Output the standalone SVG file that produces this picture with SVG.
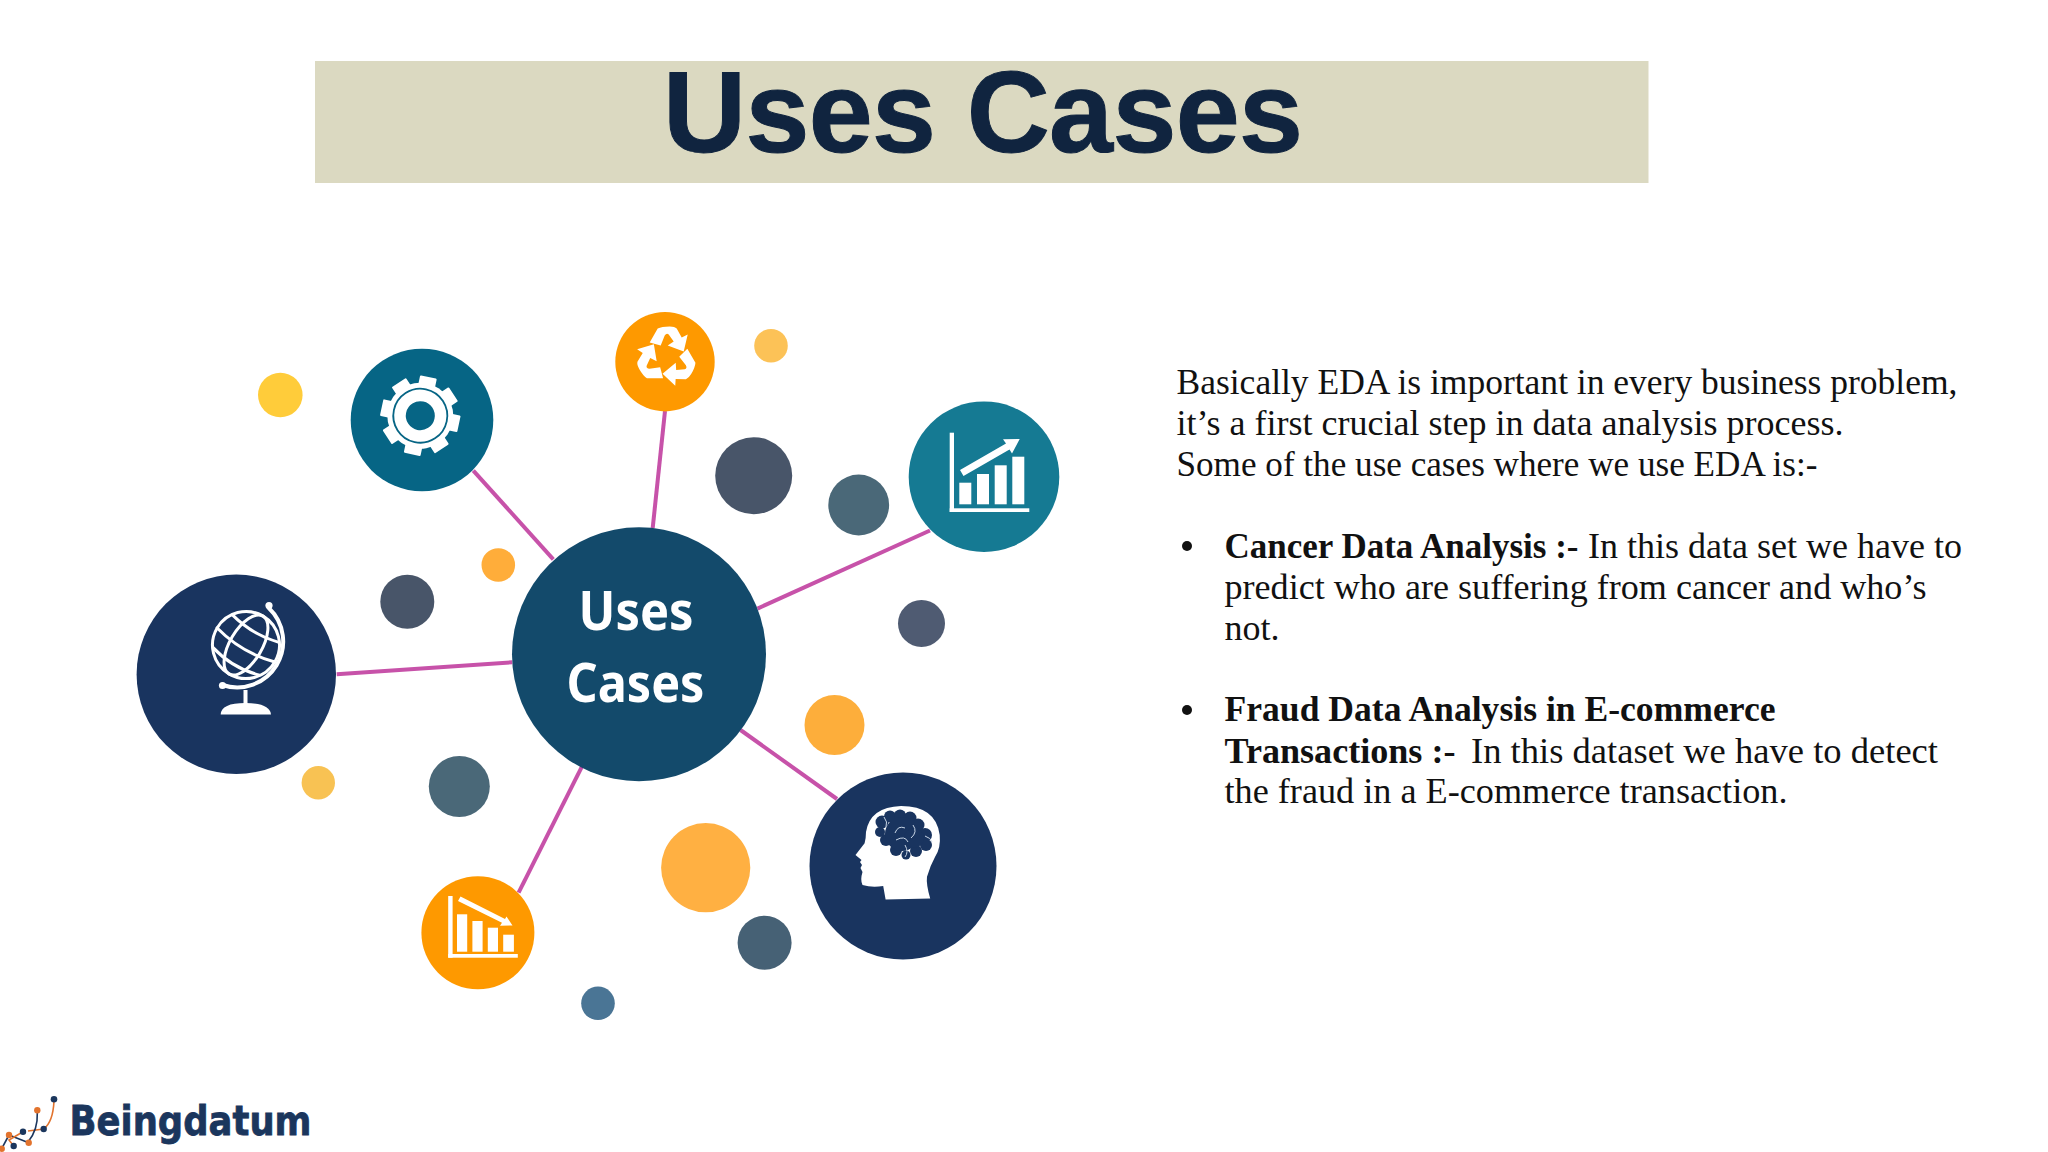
<svg xmlns="http://www.w3.org/2000/svg" xmlns:xlink="http://www.w3.org/1999/xlink" width="2048" height="1152" viewBox="0 0 2048 1152">
<style>
.link{stroke:#c752a9;stroke-width:4;fill:none}
.i{fill:#fff}
.is{fill:none;stroke:#fff;stroke-linecap:round}
.b{font-family:"Liberation Serif","Times New Roman",serif;font-size:36px;fill:#111}
.bb{font-weight:700}
.c{font-family:"Noto Sans","Open Sans",sans-serif;font-size:53px;font-weight:700;fill:#fff;text-anchor:middle}
</style>
<defs>
<rect id="tooth" x="-8.5" y="-39.5" width="17" height="14" rx="1"/>
<path id="rec" d="M-17,-14 L-9,-28 Q-5,-30 3,-30 Q8,-30 10,-28 L15,-19 L21,-22 L17,-5 L1,-11 L7,-15 L2,-22 Q0,-24 -2,-21 L-6,-11 Z"/>
</defs>
<rect width="2048" height="1152" fill="#fff"/>
<g id="banner">
<rect x="315" y="61" width="1333.5" height="122" fill="#dbd9c1"/>
<text x="663" y="152" font-family="'Liberation Sans',Arial,sans-serif" font-size="115" font-weight="700" fill="#10243f" textLength="640" lengthAdjust="spacing" stroke="#10243f" stroke-width="1">Uses Cases</text>
</g>
<g id="connectors">
<line class="link" x1="473.3" y1="470.7" x2="553.3" y2="559.3"/>
<line class="link" x1="336.7" y1="674.3" x2="512.3" y2="662.3"/>
<line class="link" x1="665" y1="411" x2="652.7" y2="528"/>
<line class="link" x1="930" y1="530.5" x2="757.5" y2="608.6"/>
<line class="link" x1="740.5" y1="730" x2="837" y2="799"/>
<line class="link" x1="581.9" y1="766.7" x2="518.6" y2="892.7"/>
</g>
<g id="dots">
<circle cx="280.3" cy="395" r="22.3" fill="#ffcc3a"/>
<circle cx="498.3" cy="565" r="16.8" fill="#ffad3a"/>
<circle cx="407.3" cy="601.7" r="27" fill="#485569"/>
<circle cx="318.3" cy="782.7" r="16.7" fill="#f8c253"/>
<circle cx="459.3" cy="786.5" r="30.5" fill="#4a6878"/>
<circle cx="771" cy="345.7" r="16.8" fill="#fcc257"/>
<circle cx="753.7" cy="475.7" r="38.5" fill="#485569"/>
<circle cx="858.7" cy="505" r="30.4" fill="#4a6878"/>
<circle cx="921.5" cy="623.5" r="23.5" fill="#4f5b72"/>
<circle cx="834.5" cy="725" r="30" fill="#fdae3b"/>
<circle cx="705.7" cy="867.7" r="44.6" fill="#ffb042"/>
<circle cx="764.6" cy="942.7" r="27" fill="#466175"/>
<circle cx="598" cy="1003.3" r="16.8" fill="#4a7595"/>
</g>
<g id="node-center">
<circle cx="639" cy="654.3" r="127" fill="#134a6b"/>
<text class="c" x="636" y="630" textLength="115" lengthAdjust="spacingAndGlyphs">Uses</text>
<text class="c" x="635.5" y="701.5" textLength="138" lengthAdjust="spacingAndGlyphs">Cases</text>
</g>
<g id="node-gear">
<circle cx="422" cy="420" r="71.3" fill="#066585"/>
<g class="i" transform="translate(420.3,415.7) rotate(12)">
<circle r="33"/>
<use xlink:href="#tooth" href="#tooth"/>
<use xlink:href="#tooth" href="#tooth" transform="rotate(45)"/>
<use xlink:href="#tooth" href="#tooth" transform="rotate(90)"/>
<use xlink:href="#tooth" href="#tooth" transform="rotate(135)"/>
<use xlink:href="#tooth" href="#tooth" transform="rotate(180)"/>
<use xlink:href="#tooth" href="#tooth" transform="rotate(225)"/>
<use xlink:href="#tooth" href="#tooth" transform="rotate(270)"/>
<use xlink:href="#tooth" href="#tooth" transform="rotate(315)"/>
<circle r="27" fill="none" stroke="#066585" stroke-width="1.8"/>
<circle r="14.5" fill="#066585"/>
</g>
</g>
<g id="node-globe">
<circle cx="236.3" cy="674.3" r="99.7" fill="#19345f"/>
<g class="is" stroke-width="3" transform="rotate(30.6 246 645)">
<circle cx="246" cy="645" r="33.5"/>
<ellipse cx="246" cy="645" rx="16" ry="33.5"/>
<path d="M212.5,645 Q246,654 279.5,645"/>
<path d="M219,626 Q246,633 273,626"/>
<path d="M219,664 Q246,672 273,664"/>
</g>
<path class="is" stroke-width="4" d="M268.8,608 A46,46 0 0 1 222.5,685"/>
<circle class="i" cx="269" cy="605.5" r="3.6"/>
<circle class="i" cx="222.5" cy="685.5" r="3.6"/>
<rect class="i" x="243.5" y="690" width="4" height="16"/>
<path class="i" d="M220.7,714.5 Q221,703 245.5,703 Q270,703 271,714.5 Z"/>
</g>
<g id="node-recycle">
<circle cx="665" cy="361.7" r="49.7" fill="#fe9900"/>
<g class="i" transform="translate(666.7,356.5)">
<use xlink:href="#rec" href="#rec"/>
<use xlink:href="#rec" href="#rec" transform="rotate(120)"/>
<use xlink:href="#rec" href="#rec" transform="rotate(240)"/>
</g>
</g>
<g id="node-chart-up">
<circle cx="984" cy="476.7" r="75.3" fill="#157a93"/>
<g class="i">
<rect x="949.7" y="432.7" width="4.3" height="79.3"/>
<rect x="949.7" y="508.3" width="79.6" height="3.7"/>
<rect x="959.3" y="482.7" width="12" height="21.6"/>
<rect x="977" y="474" width="12" height="30.3"/>
<rect x="994.7" y="465.3" width="12" height="39"/>
<rect x="1012.3" y="456.7" width="12" height="47.6"/>
<path d="M960,470 L1006,443.5 L1003,439.3 L1019.7,439 L1012,453.5 L1009.5,449.5 L963.5,476 Z"/>
</g>
</g>
<g id="node-chart-down">
<circle cx="477.9" cy="932.7" r="56.5" fill="#fe9900"/>
<g class="i">
<rect x="448.2" y="896" width="4.4" height="61.7"/>
<rect x="448.2" y="954" width="69.6" height="3.7"/>
<rect x="457" y="914.3" width="10.2" height="37.4"/>
<rect x="472.4" y="921" width="10.2" height="30.7"/>
<rect x="487.8" y="927.7" width="10.2" height="24"/>
<rect x="503.2" y="934.7" width="10.7" height="17"/>
<path d="M460.5,896.5 L505,919 L506.5,916.5 L512.5,925.5 L500,925.8 L502,922.8 L458,901 Z"/>
</g>
</g>
<g id="node-brain">
<circle cx="903" cy="866" r="93.5" fill="#19345f"/>
<path class="i" d="M885.6,899.5 L930.2,898.5 Q926,884 927,876.7 Q930,866 935,857 Q941,848 939.7,835 Q936,806 901,806 Q870,807 866,832 Q866,838 864.6,843.3 L855.5,855 L861.5,860 L860,862 L862,865 L860.5,868 L862.5,872 Q860,880 862.5,885 Q872,888 883.2,886 Z"/>
<g fill="#19345f">
<circle cx="882" cy="822" r="6.5"/><circle cx="890" cy="816.5" r="6"/><circle cx="900" cy="815.5" r="6"/><circle cx="910" cy="818" r="6.5"/><circle cx="918" cy="825" r="6.5"/>
<circle cx="925" cy="835" r="7"/><circle cx="926" cy="845" r="6"/><circle cx="916" cy="851" r="6"/><circle cx="906" cy="855" r="4.5"/><circle cx="896" cy="850" r="6"/>
<circle cx="886" cy="840" r="6"/><circle cx="880" cy="832" r="5"/><circle cx="902" cy="834" r="17"/><circle cx="914" cy="838" r="10"/>
</g>
<g fill="none" stroke="#c9d6e6" stroke-width="1">
<path d="M895,833 Q898,825 905,828"/><path d="M896,840 Q905,835 908,842"/><path d="M913,825 Q918,832 911,838"/><path d="M905,845 Q909,852 905,857"/><path d="M925,836 Q931,838 932,842"/><path d="M884,817 Q888,822 886,827"/>
</g>
</g>
<g id="body">
<text class="b" x="1176.5" y="393.5" textLength="781" lengthAdjust="spacingAndGlyphs">Basically EDA is important in every business problem,</text>
<text class="b" x="1176.5" y="435" textLength="667" lengthAdjust="spacingAndGlyphs">it’s a first crucial step in data analysis process.</text>
<text class="b" x="1176.5" y="476" textLength="641" lengthAdjust="spacingAndGlyphs">Some of the use cases where we use EDA is:-</text>
<circle cx="1187" cy="546" r="5" fill="#111"/>
<text class="b bb" x="1224.5" y="558" textLength="354" lengthAdjust="spacingAndGlyphs">Cancer Data Analysis :-</text>
<text class="b" x="1588" y="558" textLength="374" lengthAdjust="spacingAndGlyphs">In this data set we have to</text>
<text class="b" x="1224.5" y="598.5" textLength="702" lengthAdjust="spacingAndGlyphs">predict who are suffering from cancer and who’s</text>
<text class="b" x="1224.5" y="639.5" textLength="55" lengthAdjust="spacingAndGlyphs">not.</text>
<circle cx="1187" cy="710" r="5" fill="#111"/>
<text class="b bb" x="1224.5" y="721" textLength="551" lengthAdjust="spacingAndGlyphs">Fraud Data Analysis in E-commerce</text>
<text class="b bb" x="1224.5" y="763" textLength="231" lengthAdjust="spacingAndGlyphs">Transactions :-</text>
<text class="b" x="1471" y="763" textLength="467" lengthAdjust="spacingAndGlyphs">In this dataset we have to detect</text>
<text class="b" x="1224.5" y="803" textLength="563" lengthAdjust="spacingAndGlyphs">the fraud in a E-commerce transaction.</text>
</g>
<g id="logo">
<g fill="none" stroke-width="1.6">
<path d="M54,1101 Q53,1122 43.7,1129 L28,1131" stroke="#e2732d"/>
<path d="M37.3,1113 Q38,1130 28,1142" stroke="#1b365d"/>
<path d="M9,1135 L28.7,1142.7" stroke="#1b365d"/>
<path d="M23,1131.7 L9,1140 L13.7,1146" stroke="#e2732d"/>
<path d="M9,1135 L1.7,1148.7" stroke="#1b365d"/>
</g>
<g fill="#1b365d"><circle cx="54" cy="1099.3" r="3.3"/><circle cx="43.7" cy="1129" r="3.2"/><circle cx="23" cy="1131.7" r="3.2"/><circle cx="13.7" cy="1146" r="3.2"/></g>
<g fill="#e2732d"><circle cx="37.3" cy="1110.3" r="3.2"/><circle cx="9" cy="1135" r="3.2"/><circle cx="28.7" cy="1142.7" r="3.2"/><circle cx="1.7" cy="1148.7" r="3.2"/></g>
<text x="69.5" y="1135" font-family="'DejaVu Sans',Roboto,sans-serif" font-size="41" font-weight="700" fill="#1b365d" stroke="#1b365d" stroke-width="0.8" textLength="242" lengthAdjust="spacingAndGlyphs">Beingdatum</text>
</g>
</svg>
